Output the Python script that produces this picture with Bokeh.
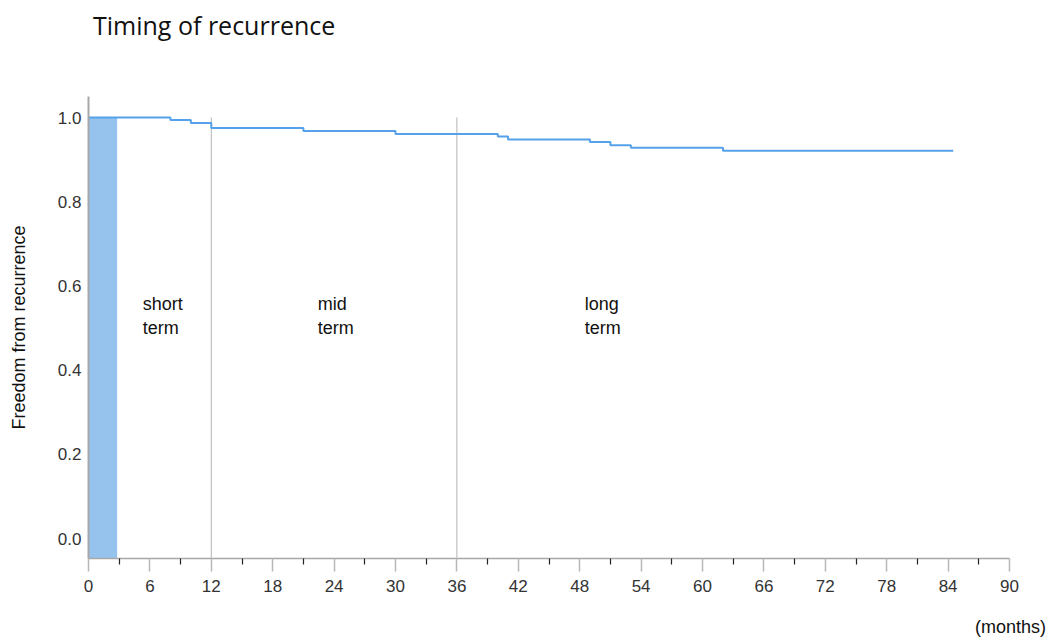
from bokeh.plotting import figure
from bokeh.models import FixedTicker, Range1d, Div, NumeralTickFormatter
from bokeh.layouts import column
from bokeh.core.properties import value
from bokeh.embed import file_html
from bokeh.resources import INLINE

# Kaplan-Meier style step data (months, freedom from recurrence)
months = [0, 8, 10, 12, 21, 30, 40, 41, 49, 51, 53, 62, 84.5]
freedom = [1.0, 0.994, 0.987, 0.975, 0.968, 0.961, 0.955, 0.948, 0.942, 0.934, 0.928, 0.921, 0.921]

# early window (shaded) and term boundaries
shade_start, shade_end = 0, 2.8
term_bounds = [12, 36]
term_labels = [("short", "term", 5.3), ("mid", "term", 22.4), ("long", "term", 48.5)]

x_major = list(range(0, 91, 6))
x_minor = list(range(3, 90, 6))
y_ticks = [0.0, 0.2, 0.4, 0.6, 0.8, 1.0]

title_text = "Timing of recurrence"
x_unit_text = "(months)"

Y0, Y1 = -0.0475, 1.05

title_div = Div(text=('<div style="font-family:\'Open Sans\';font-size:25px;color:#111111;'
                      'padding-left:93px;padding-top:8px;white-space:nowrap">%s</div>' % title_text),
                width=1050, height=50, margin=(0, 0, 0, 0))

p = figure(width=1050, height=552, output_backend="svg", toolbar_location=None,
           x_range=Range1d(0, 90), y_range=Range1d(Y0, Y1),
           min_border_left=88, min_border_right=41, min_border_top=46, min_border_bottom=44)
p.outline_line_color = None
p.xgrid.visible = False
p.ygrid.visible = False

months_div = Div(text=('<div style="font-family:\'Liberation Sans\';font-size:18px;line-height:20px;'
                       'color:#111111;width:1046px;text-align:right;padding-top:15px;'
                       'white-space:nowrap">%s</div>' % x_unit_text),
                 width=1050, height=39, margin=(0, 0, 0, 0))

# shaded early window
p.quad(left=[shade_start], right=[shade_end], bottom=[Y0], top=[freedom[0]],
       fill_color="#95c3ee", line_color=None, hatch_pattern="checker",
       hatch_color="#ffffff", hatch_alpha=0.6, hatch_scale=2, hatch_weight=1)

# term boundaries
for b in term_bounds:
    p.segment(x0=[b], y0=[Y0], x1=[b], y1=[1.0], line_color="#b4b4b4", line_width=1)

# step curve
p.step(months, freedom, mode="after", line_color="#55a2ea", line_width=2)

for a, b, xx in term_labels:
    p.text(x=[xx], y=[0.558], text=[a], text_font=value("Liberation Sans"), text_font_size="18px",
           text_baseline="middle", text_align="left", text_color="#111111")
    p.text(x=[xx], y=[0.499], text=[b], text_font=value("Liberation Sans"), text_font_size="18px",
           text_baseline="middle", text_align="left", text_color="#111111")

xa = p.xaxis[0]
xa.ticker = FixedTicker(ticks=x_major, minor_ticks=x_minor)
xa.axis_line_color = "#a8a8a8"
xa.axis_line_width = 1.5
xa.major_tick_line_color = "#b8b8b8"
xa.major_tick_line_width = 1.5
xa.major_tick_out = 13
xa.major_tick_in = 0
xa.minor_tick_line_color = "#222222"
xa.minor_tick_line_width = 1.2
xa.minor_tick_out = 6
xa.minor_tick_in = 0
xa.major_label_standoff = 8
xa.major_label_text_font = "Liberation Sans"
xa.major_label_text_font_size = "17px"
xa.major_label_text_color = "#333333"

ya = p.yaxis[0]
ya.ticker = FixedTicker(ticks=y_ticks)
ya.formatter = NumeralTickFormatter(format="0.0")
ya.axis_line_color = "#a8a8a8"
ya.axis_line_width = 2
ya.major_tick_line_color = None
ya.major_tick_out = 0
ya.major_tick_in = 0
ya.minor_tick_line_color = None
ya.major_label_standoff = 7
ya.major_label_text_font = "Liberation Sans"
ya.major_label_text_font_size = "17px"
ya.major_label_text_color = "#333333"
ya.axis_label = "Freedom from recurrence"
ya.axis_label_text_font = "Liberation Sans"
ya.axis_label_text_font_size = "18px"
ya.axis_label_text_font_style = "normal"
ya.axis_label_text_color = "#111111"
ya.axis_label_standoff = 26

layout = column(title_div, p, months_div, spacing=0)
open("out.html", "w").write(file_html(layout, INLINE))
